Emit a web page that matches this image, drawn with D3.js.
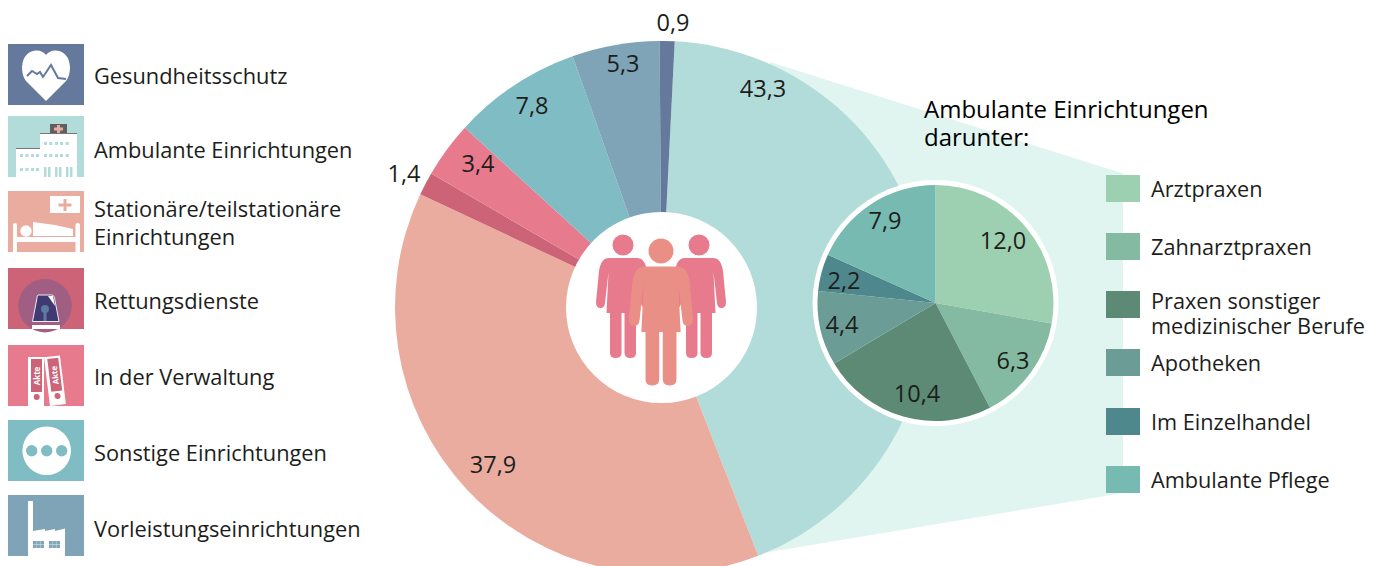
<!DOCTYPE html>
<html lang="de"><head><meta charset="utf-8">
<style>html,body{margin:0;padding:0;background:#fff;overflow:hidden}svg{display:block}text{font-family:"Open Sans",sans-serif;fill:#1d1d1b}</style>
<script src="https://cdn.jsdelivr.net/npm/d3@7/dist/d3.min.js"></script></head><body>
<script>
const mainNames=["Ambulante Einrichtungen","Stationäre/teilstationäre|Einrichtungen","Rettungsdienste","In der Verwaltung","Sonstige Einrichtungen","Vorleistungseinrichtungen","Gesundheitsschutz"];
const mainValues=[43.3,37.9,1.4,3.4,7.8,5.3,0.9];
const mainColors=["#b2dcd9","#ebaca0","#cc6377","#e87a8e","#80bcc3","#7fa3b7","#64799b"];
const subNames=["Arztpraxen","Zahnarztpraxen","Praxen sonstiger|medizinischer Berufe","Apotheken","Im Einzelhandel","Ambulante Pflege"];
const subValues=[12.0,6.3,10.4,4.4,2.2,7.9];
const subColors=["#9dd0b0","#84b9a2","#5c8a75","#6b9d96","#4f888c","#77bab2"];
const legendOrder=[6,0,1,2,3,4,5];
const legendRowY=[44,116,191,268,345,420,495];
const legendBase=[84,158,217,309,385,461,537];
const subRowY=[175,233,291,349,408,466];
const fmt=v=>d3.format(".1f")(v).replace(".",",");

const svg=d3.select("body").append("svg").attr("width",1381).attr("height",566);
const cx=661.5,cy=307.5,R=266.5,r0=95.5;
const sx=935.5,sy=303,sR=118,sRing=123;

// pale connector
svg.append("polygon").attr("points","770,62 1123,173.5 1123,493 757,554").attr("fill","#e0f5f0");

// main pie
const start=(0.9*3.6-0.4)*Math.PI/180;
const pie=d3.pie().sort(null).startAngle(start).endAngle(start+2*Math.PI);
const arc=d3.arc().innerRadius(0).outerRadius(R);
const g=svg.append("g").attr("transform",`translate(${cx},${cy})`);
g.selectAll("path").data(pie(mainValues)).join("path").attr("d",arc).attr("fill",(d,i)=>mainColors[i]);
g.append("circle").attr("r",r0).attr("fill","#fff");

const mainLabelXY=[[763,89],[493,465],[404,174],[478,164],[532,106],[623,64],[673,23]];
mainValues.forEach((v,i)=>svg.append("text").attr("x",mainLabelXY[i][0]).attr("y",mainLabelXY[i][1]+8).attr("text-anchor","middle").attr("font-size",23.5).text(fmt(v)));

// people
function figure(x,y,k,col){
  const p=svg.append("g").attr("transform",`translate(${x},${y}) scale(${k})`).attr("fill",col);
  p.append("circle").attr("r",10.5);
  p.append("path").attr("d","M-14,13 L14,13 Q22,13 24,26 L27,57 Q27,63 22.5,63 Q18.5,63 18,58 L14.5,27 L16.5,68 L-16.5,68 L-14.5,27 L-18,58 Q-18.5,63 -22.5,63 Q-27,63 -27,57 L-24,26 Q-22,13 -14,13 Z");
  p.append("path").attr("d","M1.5,66 H13 V108 Q13,113 7.5,113 Q1.5,113 1.5,108 Z M-1.5,66 H-13 V108 Q-13,113 -7.5,113 Q-1.5,113 -1.5,108 Z");
}
figure(623,245,1,"#e87a8e");
figure(699,245,1,"#e87a8e");
figure(661,251,1.19,"#ea8f85");

// sub pie
svg.append("circle").attr("cx",sx).attr("cy",sy).attr("r",sRing).attr("fill","#fff");
const sg=svg.append("g").attr("transform",`translate(${sx},${sy})`);
const sarc=d3.arc().innerRadius(0).outerRadius(sR);
sg.selectAll("path").data(d3.pie().sort(null)(subValues)).join("path").attr("d",sarc).attr("fill",(d,i)=>subColors[i]);
const subLabelXY=[[1003,241],[1013,361],[917,394],[842,325],[844,281],[885,221]];
subValues.forEach((v,i)=>svg.append("text").attr("x",subLabelXY[i][0]).attr("y",subLabelXY[i][1]+8).attr("text-anchor","middle").attr("font-size",23.5).text(fmt(v)));

// sub title + legend
const title=svg.append("text").attr("font-size",24).attr("style","fill:#000");
title.append("tspan").attr("x",924).attr("y",118).text("Ambulante Einrichtungen");
title.append("tspan").attr("x",924).attr("y",146).text("darunter:");
subNames.forEach((n,i)=>{
  svg.append("rect").attr("x",1106).attr("y",subRowY[i]).attr("width",34).attr("height",27).attr("fill",subColors[i]);
  const lines=n.split("|");
  const t=svg.append("text").attr("font-size",21.7);
  lines.forEach((l,j)=>t.append("tspan").attr("x",1151).attr("y",subRowY[i]+(lines.length>1?18+j*25:22)).text(l));
});

// icons (local coordinates inside a 76×61 tile)
const icons={
 6(c){c.append("path").attr("fill","#fff").attr("d","M38,57 L18,37 Q14,32 14,23 Q15,8 28,6.5 Q34,6 38,11 Q42,6 48,6.5 Q61,8 62,23 Q62,32 58,37 Z");
      c.append("path").attr("fill","none").attr("stroke","#64799b").attr("stroke-width",2).attr("d","M19,32 L24,27 L29,30 L32,28 L35,33 L43,21 L50,34 L58,35");},
 0(c){c.append("rect").attr("x",42).attr("y",8).attr("width",17).attr("height",9).attr("fill","#5f5f5f");
      c.append("path").attr("fill","#ebaca0").attr("d","M49,9h3v2.5h3v3h-3v2.5h-3v-2.5h-3v-3h3z");
      c.append("path").attr("fill","#fff").attr("d","M8,61V32H32V17H69V61Z");
      c.append("path").attr("fill","none").attr("stroke","#777").attr("d","M8,32.5H32M32,17.5H69");
      const win=(xs,y)=>xs.forEach(x=>c.append("rect").attr("x",x).attr("y",y).attr("width",3).attr("height",3).attr("fill","#b2dcd9"));
      win([36,41.3,47,52,57.7],26); win([36,41.3,47,52,57.7],38); win([12,17.5,23,28],38); win([12,17.5,23,28],52);
      [36,40,47,51,58,62].forEach(x=>c.append("rect").attr("x",x).attr("y",51).attr("width",2.5).attr("height",10).attr("fill","#b2dcd9"));},
 1(c){c.append("rect").attr("x",42).attr("y",5).attr("width",30).attr("height",17).attr("fill","#fff");
      c.append("path").attr("fill","#ebaca0").attr("d","M55.5,8h3v4.5h5v3h-5v4.5h-3v-4.5h-5v-3h5z");
      c.append("path").attr("fill","#fff").attr("d","M5,61V34Q5,32 7,32Q9,32 9,34V46H67.5V34Q67.5,32 69.7,32Q72,32 72,34V61H67.5V51H9V61Z");
      c.append("circle").attr("cx",18).attr("cy",40).attr("r",5.7).attr("fill","#fff");
      c.append("path").attr("fill","#fff").attr("d","M25,31Q45,33 65,38V45H25Z");},
 2(c){c.append("circle").attr("cx",37).attr("cy",37.7).attr("r",26.7).attr("fill","#a05e82");
      c.append("path").attr("fill","#3f3a72").attr("stroke","#f3e9f1").attr("d","M30,27H44Q46,27 46.5,30L51,53.5H24.5L29,30Q29,27 30,27Z");
      c.append("path").attr("fill","#fff").attr("d","M40,28H45L47,38Z");
      c.append("circle").attr("cx",37).attr("cy",41).attr("r",4).attr("fill","#5f7a9f");
      c.append("rect").attr("x",35.5).attr("y",43).attr("width",3).attr("height",10).attr("fill","#5f7a9f");
      c.append("rect").attr("x",24).attr("y",57).attr("width",28).attr("height",4).attr("fill","#fff");},
 3(c){const b=(x,rot)=>{const q=c.append("g").attr("transform",`translate(${x},61) rotate(${rot})`);
        q.append("rect").attr("y",-49).attr("width",16).attr("height",49).attr("fill","#fff");
        q.append("rect").attr("x",3).attr("y",-47).attr("width",11).attr("height",33).attr("fill","#cc6377");
        q.append("circle").attr("cx",8.7).attr("cy",-9).attr("r",3).attr("fill","#cc6377");
        q.append("text").attr("transform","translate(11.5,-30) rotate(-90)").attr("text-anchor","middle").attr("font-size",8).attr("font-weight",700).attr("style","fill:#fff").text("Akte");};
      b(20,0);b(42,-7);},
 4(c){c.append("circle").attr("cx",38.7).attr("cy",30.7).attr("r",24.3).attr("fill","#fff");
      [23.7,38.7,53.7].forEach(x=>c.append("circle").attr("cx",x).attr("cy",30.7).attr("r",5.7).attr("fill","#80bcc3"));},
 5(c){c.append("path").attr("fill","#fff").attr("d","M20,61V6H25V36L37,34V36L47,34V36L57,33.5V61Z");
      [25,41].forEach(x=>{c.append("rect").attr("x",x).attr("y",46).attr("width",11).attr("height",7).attr("fill","#7fa3b7");
        c.append("path").attr("stroke","#d5e2ea").attr("stroke-width",.6).attr("d",`M${x+3.7},46v7M${x+7.3},46v7M${x},49.5h11`);});}
};

// left legend
legendOrder.forEach((m,row)=>{
  const y=legendRowY[row];
  const c=svg.append("g").attr("transform",`translate(8,${y})`);
  c.append("rect").attr("width",76).attr("height",61).attr("fill",mainColors[m]);
  icons[m](c);
  const t=svg.append("text").attr("font-size",21.8);
  mainNames[m].split("|").forEach((l,j)=>t.append("tspan").attr("x",94).attr("y",legendBase[row]+j*28).text(l));
});
</script></body></html>
